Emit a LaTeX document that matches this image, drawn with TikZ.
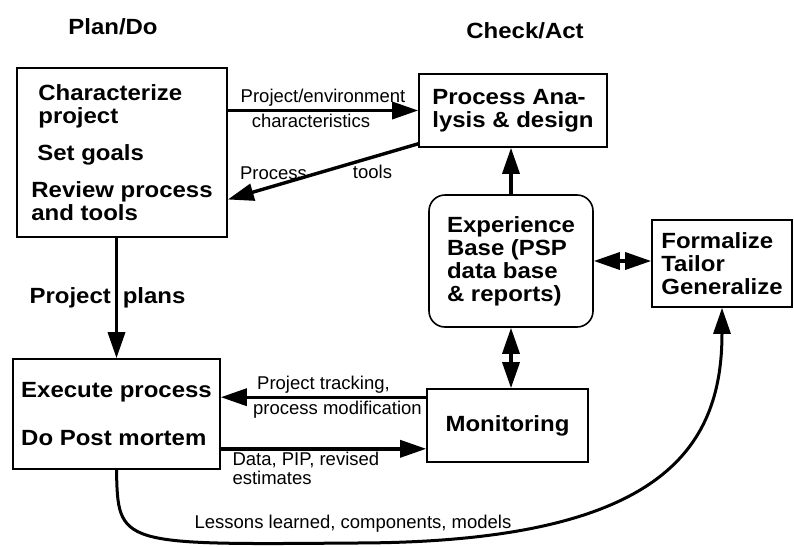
\documentclass[tikz,border=0pt]{standalone}
\usepackage{fontspec}
\setmainfont{Liberation Sans}
\newfontfamily\boxfont{Liberation Sans}[FakeStretch=1.09]
\usetikzlibrary{arrows.meta}

\tikzset{
    box/.style={draw, line width=1.6pt, align=left, inner sep=0pt,
        font=\boxfont\bfseries\fontsize{22}{23}\selectfont},
    flow/.style={line width=3.4pt, -{Triangle[length=26pt,width=17pt]}},
    twoway/.style={line width=3.4pt, {Triangle[length=26pt,width=17pt]}-{Triangle[length=26pt,width=17pt]}},
    lbl/.style={font=\fontsize{18.5}{19}\selectfont, align=left, inner sep=2pt},
    title/.style={font=\boxfont\bfseries\fontsize{22}{23}\selectfont}
}

\begin{document}
\begin{tikzpicture}[x=1pt,y=-1pt]
    \useasboundingbox (0,0) rectangle (794,546);

    % Headings
    \node[title] (plando) at (113,27) {Plan/Do};
    \node[title] (checkact) at (525,31) {Check/Act};

    % Boxes
    \node[box, minimum width=210pt, minimum height=169pt] (plan) at (122,152.5)
        {\hspace*{7pt}Characterize\\\hspace*{7pt}project\\[14pt]\hspace*{6pt}Set goals\\[14pt]Review process\\and tools};
    \node[box, minimum width=188pt, minimum height=73pt] (anal) at (513,110.5)
        {Process Ana-\\lysis \& design};
    \node[box, rounded corners=16pt, minimum width=164pt, minimum height=132pt] (exp) at (511,261)
        {Experience\\Base (PSP\\data base\\\& reports)};
    \node[box, minimum width=140pt, minimum height=87pt] (form) at (722,263.5)
        {Formalize\\Tailor\\Generalize};
    \node[box, minimum width=207pt, minimum height=110pt] (exec) at (116.5,414)
        {Execute process\\[25pt]Do Post mortem};
    \node[box, minimum width=161pt, minimum height=73pt] (mon) at (507.5,425.5)
        {Monitoring};

    % Helper points
    \coordinate (trk) at ([yshift=-9pt]mon.north west);
    \coordinate (dat) at ([yshift=14pt]mon.south west);
    \coordinate (tls) at ([yshift=4pt]anal.south west);

    % Arrows
    \draw[flow] (plan.east |- anal.west) -- (anal.west)
        node[lbl, midway, above] {Project/environment}
        node[lbl, midway, below, xshift=-12pt] {characteristics};
    \draw[flow] (tls) -- ([yshift=-47pt]plan.east)
        node[lbl, pos=0.76, above=3pt] {Process}
        node[lbl, pos=0.24, below=4pt] {tools};
    \draw[flow] (exp.north) -- (exp.north |- anal.south);
    \draw[twoway] (exp.east) -- (exp.east -| form.west);
    \draw[twoway] (exp.south) -- (exp.south |- mon.north);
    \draw[flow] (plan.south -| exec.north) -- (exec.north)
        node[midway, title, xshift=-9pt] {Project\hspace{12pt}plans};
    \draw[flow] (trk) -- (trk -| exec.east)
        node[lbl, midway, above] {Project tracking,}
        node[lbl, midway, below, xshift=14pt] {process modification};
    \draw[flow] (dat -| exec.east) -- (dat)
        node[lbl, pos=0, below right, xshift=8pt] {Data, PIP, revised\\estimates};

    % Lessons learned
    \draw[flow, line width=3pt] (exec.south) .. controls (118,545) .. (353,543)
        node[lbl, above=7pt] {Lessons learned, components, models}
        .. controls (660,543) and (722,450) .. (form.south);
\end{tikzpicture}
\end{document}
